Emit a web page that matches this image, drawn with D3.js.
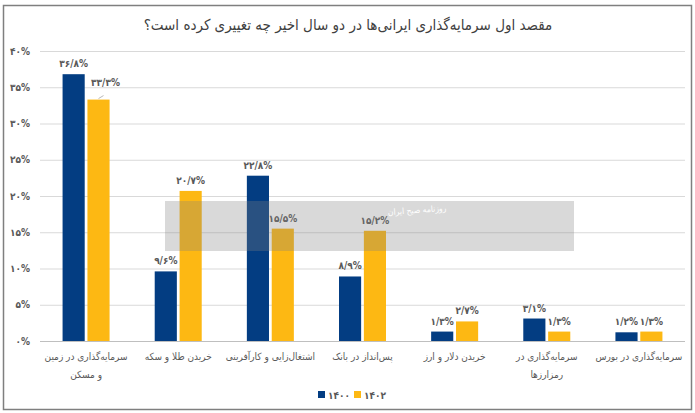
<!DOCTYPE html>
<html>
<head>
<meta charset="utf-8">
<script src="https://cdn.jsdelivr.net/npm/d3@7"></script>
<style>
  html, body { margin: 0; padding: 0; background: #fff; }
  svg text { font-family: "DejaVu Sans Condensed", "DejaVu Sans", sans-serif; }
</style>
</head>
<body>
<div id="chart"></div>
<script>
// ── Data ─────────────────────────────────────────────
const categories = [
    ["سرمایه\u200cگذاری در زمین", "و مسکن"],
    ["خریدن طلا و سکه"],
    ["اشتغال\u200cزایی و کارآفرینی"],
    ["پس\u200cانداز در بانک"],
    ["خریدن دلار و ارز"],
    ["سرمایه\u200cگذاری در", "رمزارزها"],
    ["سرمایه\u200cگذاری در بورس"]
];
const series = ["۱۴۰۰", "۱۴۰۲"];
const values1400 = [36.8, 9.6, 22.8, 8.9, 1.3, 3.1, 1.2];
const values1402 = [33.3, 20.7, 15.5, 15.2, 2.7, 1.3, 1.3];
const yTicks = [0, 5, 10, 15, 20, 25, 30, 35, 40];
const title = "مقصد اول سرمایه\u200cگذاری ایرانی\u200cها در دو سال اخیر چه تغییری کرده است؟";

// Persian digits, "/" as the decimal mark
const faDigits = "۰۱۲۳۴۵۶۷۸۹";
const fa = s => String(s).replace(/[0-9]/g, d => faDigits[+d]).replace(".", "/");

const width = 695, height = 413;
const margin = { top: 51, left: 40 };
const innerW = 685 - margin.left;
const innerH = 341 - margin.top;
const colors = ["#033d82", "#fdb813"];

const svg = d3.select("#chart").append("svg")
    .attr("width", width).attr("height", height);

// frame
svg.append("rect").attr("x", 3.5).attr("y", 5.5).attr("width", 688).attr("height", 404)
    .attr("fill", "#fff").attr("stroke", "#7f7f7f").attr("stroke-width", 1.5);

svg.append("text").attr("x", 348).attr("y", 30)
    .attr("text-anchor", "middle").attr("direction", "rtl")
    .style("font-size", "15px").style("fill", "#404040")
    .text(title);

const g = svg.append("g").attr("transform", `translate(${margin.left},${margin.top})`);

const x0 = d3.scaleBand().domain(d3.range(categories.length)).range([0, innerW]);
const x1 = d3.scaleBand().domain([0, 1]).range([x0.bandwidth() / 2 - 23.5, x0.bandwidth() / 2 + 23.5]).paddingInner(0.11);
const y = d3.scaleLinear().domain([0, 40]).range([innerH, 0]);

// gridlines
g.append("g").attr("class", "grid")
    .call(d3.axisLeft(y).tickValues(yTicks).tickSize(-innerW).tickFormat(""))
    .call(a => a.select(".domain").remove())
    .selectAll("line").style("stroke", d => d === 0 ? "#bfbfbf" : "#d9d9d9");

// y labels
g.append("g")
    .call(d3.axisLeft(y).tickValues(yTicks).tickSize(0).tickPadding(10).tickFormat(d => fa(d) + "%"))
    .call(a => a.select(".domain").remove())
    .selectAll("text").style("font-size", "10px").style("font-weight", "bold").style("fill", "#595959");

// watermark band
svg.append("rect").attr("x", 165).attr("y", 201).attr("width", 409).attr("height", 50)
    .attr("fill", "#808080").attr("opacity", 0.3);
svg.append("text").attr("x", 417).attr("y", 213).attr("text-anchor", "middle")
    .attr("transform", "rotate(-4,417,209)")
    .style("font-size", "8.5px").style("fill", "#fff").text("روزنامه صبح ایران");

// bars
const rows = categories.map((c, i) => [values1400[i], values1402[i]]);
const cat = g.selectAll("g.cat").data(rows).join("g").attr("class", "cat")
    .attr("transform", (d, i) => `translate(${x0(i)},0)`);

cat.selectAll("rect").data(d => d).join("rect")
    .attr("x", (d, j) => x1(j)).attr("width", x1.bandwidth())
    .attr("y", d => y(d)).attr("height", d => innerH - y(d))
    .attr("fill", (d, j) => colors[j]);

// first yellow label is pushed aside in the source, with a small leader
const shift = (i, j) => (i === 0 && j === 1) ? [7, -7] : [0, 0];
cat.each(function (d, i) {
    const sel = d3.select(this);
    sel.selectAll("text.lbl").data(d).join("text").attr("class", "lbl")
        .attr("x", (v, j) => x1(j) + x1.bandwidth() / 2 + shift(i, j)[0])
        .attr("y", v => y(v) - 7)
        .attr("dy", (v, j) => shift(i, j)[1])
        .attr("text-anchor", "middle")
        .style("font-size", "10px").style("font-weight", "bold").style("fill", "#595959")
        .text(v => fa(v.toFixed(1)) + "%");
    if (i === 0) {
        const cx = x1(1) + x1.bandwidth() / 2;
        sel.append("line")
            .attr("x1", cx).attr("y1", y(d[1]) - 1)
            .attr("x2", cx + 5).attr("y2", y(d[1]) - 4)
            .attr("stroke", "#a6a6a6").attr("stroke-width", 0.8);
    }
});

// category labels
const lab = g.selectAll("text.cat-label").data(categories).join("text").attr("class", "cat-label")
    .attr("x", (d, i) => x0(i) + x0.bandwidth() / 2)
    .attr("y", innerH + 19)
    .attr("text-anchor", "middle").attr("direction", "rtl")
    .style("font-size", "10px").style("fill", "#595959");
lab.selectAll("tspan").data(d => d).join("tspan")
    .attr("x", function () { return this.parentNode.getAttribute("x"); })
    .attr("dy", (d, k) => k === 0 ? 0 : 18)
    .text(d => d);

// legend
const legend = svg.append("g").attr("transform", "translate(318,391)");
series.forEach((s, i) => {
    const row = legend.append("g").attr("transform", `translate(${i * 36},0)`);
    row.append("rect").attr("width", 7).attr("height", 7).attr("fill", colors[i]);
    row.append("text").attr("x", 10).attr("y", 7.5)
        .style("font-size", "10px").style("font-weight", "bold").style("fill", "#595959").text(s);
});
</script>
</body>
</html>
